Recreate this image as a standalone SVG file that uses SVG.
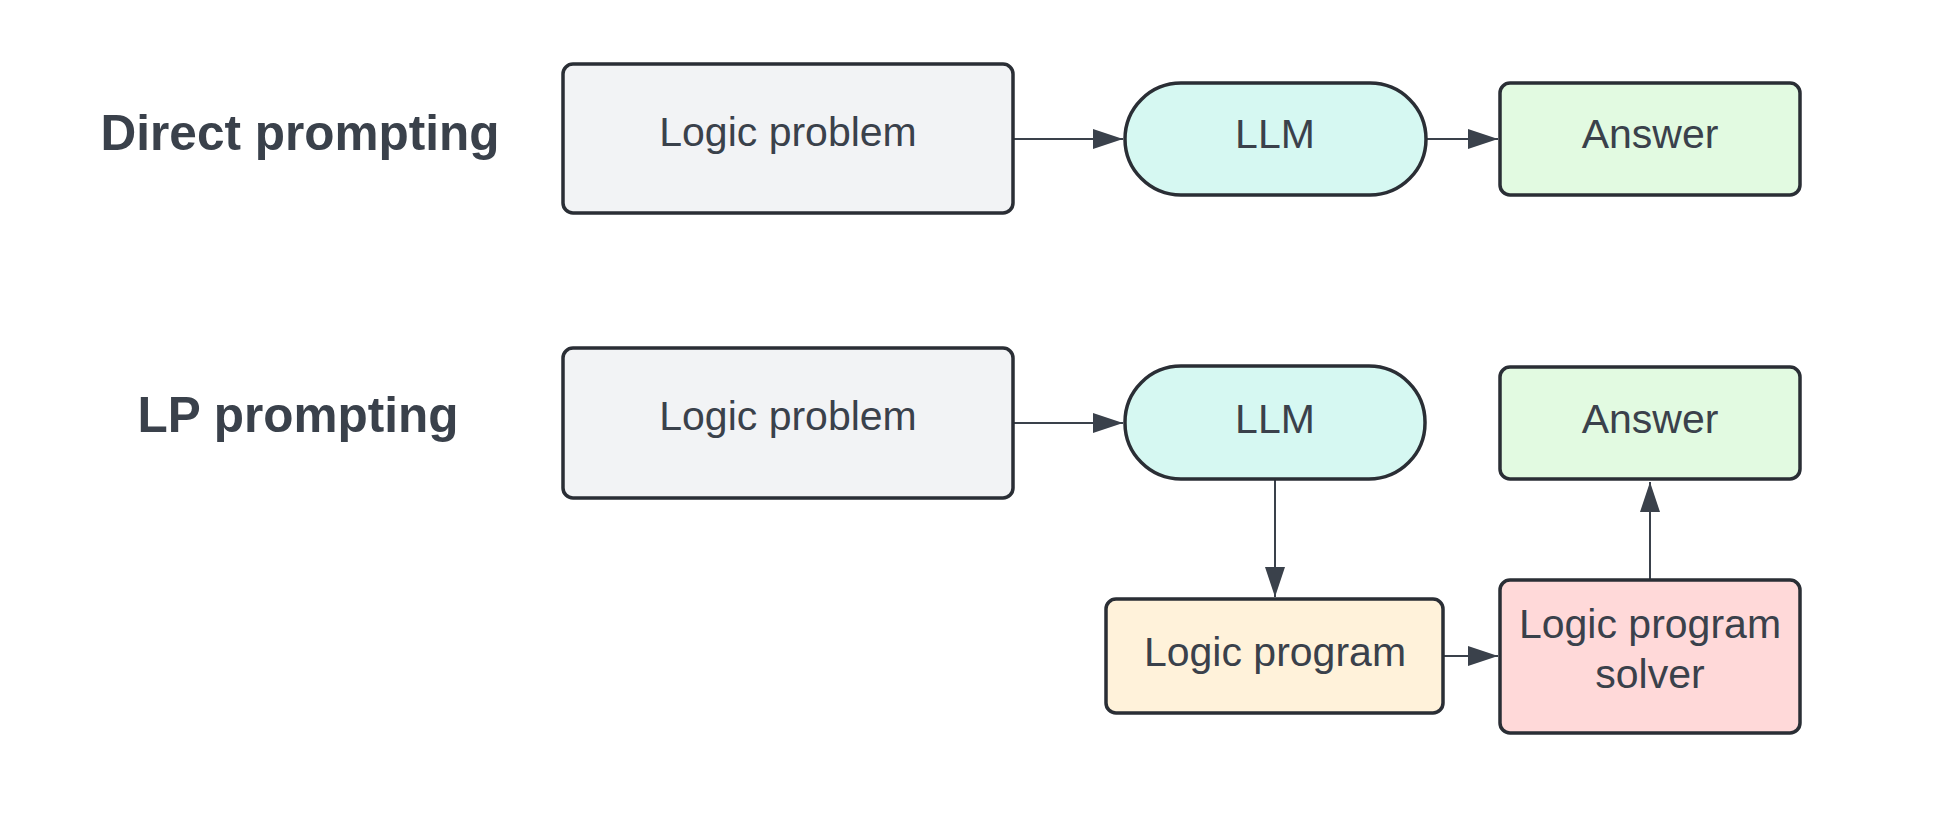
<svg xmlns="http://www.w3.org/2000/svg" width="1950" height="825" viewBox="0 0 1950 825">
<style>
.node{stroke:#2a2e35;stroke-width:3.5}
.lbl{font-family:"Liberation Sans",Arial,sans-serif;font-size:41px;fill:#3a414b;text-anchor:middle}
.title{font-family:"Liberation Sans",Arial,sans-serif;font-size:49.5px;font-weight:bold;fill:#3a414b;text-anchor:middle}
.edge{stroke:#3a414b;stroke-width:2;fill:none;marker-end:url(#arr)}
</style>
<defs>
<marker id="arr" markerWidth="30" markerHeight="20" refX="30" refY="10" orient="auto" markerUnits="userSpaceOnUse">
<path d="M0,0 L30,10 L0,20 Z" fill="#3a414b"/>
</marker>
</defs>
<rect width="1950" height="825" fill="#ffffff"/>
<text class="title" x="300" y="150">Direct prompting</text>
<text class="title" x="298" y="432">LP prompting</text>
<g id="connectors">
<path class="edge" d="M1013,139 L1123,139"/>
<path class="edge" d="M1426,139 L1498,139"/>
<path class="edge" d="M1013,423 L1123,423"/>
<path class="edge" d="M1275,479 L1275,597"/>
<path class="edge" d="M1443,656 L1498,656"/>
<path class="edge" d="M1650,580 L1650,482"/>
</g>
<g id="n-logic-problem-1">
<rect class="node" x="563" y="64" width="450" height="149" rx="10" fill="#f2f3f5"/>
<text class="lbl" x="788" y="146">Logic problem</text>
</g>
<g id="n-llm-1">
<rect class="node" x="1125" y="83" width="301" height="112" rx="56" fill="#d6f8f2"/>
<text class="lbl" x="1275" y="148">LLM</text>
</g>
<g id="n-answer-1">
<rect class="node" x="1500" y="83" width="300" height="112" rx="10" fill="#e2fae1"/>
<text class="lbl" x="1650" y="148">Answer</text>
</g>
<g id="n-logic-problem-2">
<rect class="node" x="563" y="348" width="450" height="150" rx="10" fill="#f2f3f5"/>
<text class="lbl" x="788" y="430">Logic problem</text>
</g>
<g id="n-llm-2">
<rect class="node" x="1125" y="366" width="300" height="113" rx="56" fill="#d6f8f2"/>
<text class="lbl" x="1275" y="433">LLM</text>
</g>
<g id="n-answer-2">
<rect class="node" x="1500" y="367" width="300" height="112" rx="10" fill="#e2fae1"/>
<text class="lbl" x="1650" y="433">Answer</text>
</g>
<g id="n-logic-program">
<rect class="node" x="1106" y="599" width="337" height="114" rx="10" fill="#fff2da"/>
<text class="lbl" x="1275" y="666">Logic program</text>
</g>
<g id="n-solver">
<rect class="node" x="1500" y="580" width="300" height="153" rx="10" fill="#ffd9d9"/>
<text class="lbl" x="1650" y="638">Logic program</text>
<text class="lbl" x="1650" y="688">solver</text>
</g>
</svg>
